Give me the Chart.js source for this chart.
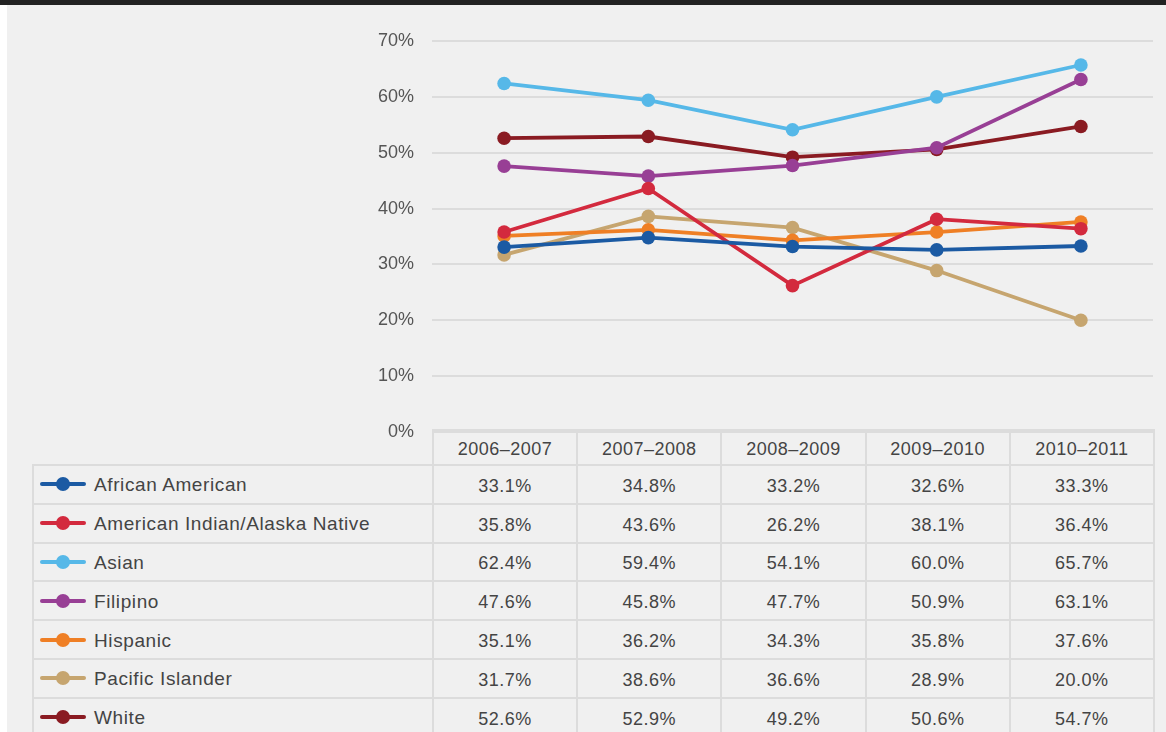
<!DOCTYPE html>
<html>
<head>
<meta charset="utf-8">
<script src="https://cdn.jsdelivr.net/npm/chart.js@4.4.1/dist/chart.umd.min.js"></script>
<style>
  html,body{margin:0;padding:0;}
  body{width:1166px;height:732px;overflow:hidden;background:#f0f0f0;position:relative;font-family:"Liberation Sans",Arial,sans-serif;}
  #topbar{position:absolute;left:0;top:0;width:1166px;height:5px;background:#222;}
  #leftstrip{position:absolute;left:0;top:5px;width:7px;height:727px;background:#ffffff;}
  #chartwrap{position:absolute;left:0;top:0;width:1166px;height:732px;}
  #tbl{position:absolute;left:32px;top:429px;width:1121px;border-collapse:collapse;table-layout:fixed;color:#444;font-size:18px;letter-spacing:0.5px;}
  #tbl td,#tbl th{border:2px solid #dcdcdc;padding:4px 0 0 0;font-weight:normal;text-align:center;white-space:nowrap;overflow:hidden;box-sizing:border-box;}
  #tbl th{height:35px;}
  #tbl td{height:38.8px;}
  #tbl th.empty{border-top:none;border-left:none;}
  #tbl td.name{text-align:left;font-size:19px;letter-spacing:0.6px;padding-top:2px;}
  .mk{display:inline-block;position:relative;width:46px;height:14px;vertical-align:middle;margin-left:6px;margin-right:8px;top:-2px;}
  .mk .ln{position:absolute;left:0;top:5px;width:46px;height:4px;border-radius:2px;}
  .mk .dt{position:absolute;left:16px;top:0;width:14px;height:14px;border-radius:7px;}
</style>
</head>
<body>
<div id="topbar"></div>
<div id="leftstrip"></div>
<table id="tbl"><colgroup id="cg"></colgroup><thead><tr id="hdr"></tr></thead><tbody id="tb"></tbody></table>
<div id="chartwrap"><canvas id="c" width="1166" height="732"></canvas></div>
<script>
const years = ["2006\u20132007","2007\u20132008","2008\u20132009","2009\u20132010","2010\u20132011"];
const seriesNames = ["African American","American Indian/Alaska Native","Asian","Filipino","Hispanic","Pacific Islander","White"];
const africanAmerican = [33.1,34.8,33.2,32.6,33.3];
const americanIndian = [35.8,43.6,26.2,38.1,36.4];
const asian = [62.4,59.4,54.1,60.0,65.7];
const filipino = [47.6,45.8,47.7,50.9,63.1];
const hispanic = [35.1,36.2,34.3,35.8,37.6];
const pacificIslander = [31.7,38.6,36.6,28.9,20.0];
const white = [52.6,52.9,49.2,50.6,54.7];
const yTicks = [0,10,20,30,40,50,60,70];
const colors = ["#1b5aa3","#d32a3e","#56b8e8","#983f95","#ef7f25","#c6a56f","#8a1b22"];

const seriesValues = [africanAmerican,americanIndian,asian,filipino,hispanic,pacificIslander,white];

// table
const cg = document.getElementById('cg');
const c0 = document.createElement('col'); c0.style.width='400px'; cg.appendChild(c0);
years.forEach(()=>{const c=document.createElement('col'); c.style.width='144.2px'; cg.appendChild(c);});
const hdr = document.getElementById('hdr');
const e = document.createElement('th'); e.className='empty'; hdr.appendChild(e);
years.forEach(y=>{const th=document.createElement('th'); th.textContent=y; hdr.appendChild(th);});
const tb = document.getElementById('tb');
seriesNames.forEach((n,i)=>{
  const tr=document.createElement('tr');
  const td=document.createElement('td'); td.className='name';
  td.innerHTML='<span class="mk"><span class="ln" style="background:'+colors[i]+'"></span><span class="dt" style="background:'+colors[i]+'"></span></span>';
  td.appendChild(document.createTextNode(n));
  tr.appendChild(td);
  seriesValues[i].forEach(v=>{const d=document.createElement('td'); d.textContent=v.toFixed(1)+'%'; tr.appendChild(d);});
  tb.appendChild(tr);
});

const datasets = seriesNames.map((n,i)=>({
  label:n,
  data:seriesValues[i],
  borderColor:colors[i],
  backgroundColor:colors[i],
  borderWidth:3.8,
  pointRadius:6.8,
  pointBorderWidth:0,
  pointHoverRadius:6.8,
  tension:0,
  fill:false
}));

new Chart(document.getElementById('c'),{
  type:'line',
  data:{labels:years,datasets:datasets},
  options:{
    responsive:false,
    animation:false,
    devicePixelRatio:1,
    layout:{padding:{left:0,right:13,top:41,bottom:300}},
    plugins:{legend:{display:false},tooltip:{enabled:false},title:{display:false}},
    events:[],
    scales:{
      x:{type:'category',offset:true,display:false},
      y:{
        min:0,max:70,
        afterFit:(s)=>{s.width=432;},
        afterBuildTicks:(s)=>{s.ticks=yTicks.map(v=>({value:v}));},
        border:{display:false},
        grid:{color:'#dcdcdc',lineWidth:2,drawTicks:false},
        ticks:{padding:18,color:'#555',font:{family:'"Liberation Sans", Arial, sans-serif',size:18},callback:(v)=>v+'%'}
      }
    }
  }
});
</script>
</body>
</html>
